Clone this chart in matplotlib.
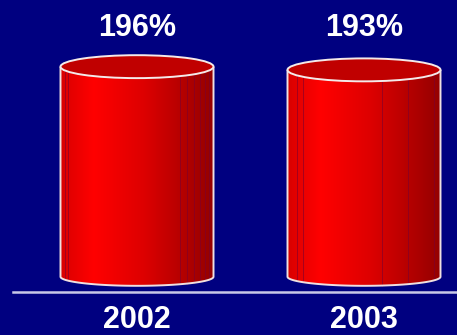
import numpy as np
import matplotlib
matplotlib.use("Agg")
from matplotlib import pyplot as plt
from matplotlib.colors import LinearSegmentedColormap
from matplotlib.patches import Ellipse, Polygon

years = ["2002", "2003"]
values = [196, 193]
labels = ["196%", "193%"]

NAVY = "#000080"
FONT = ["Liberation Sans Narrow", "Liberation Sans", "DejaVu Sans"]

# horizontal shading across the cylinder body
body_cmap = LinearSegmentedColormap.from_list(
    "body",
    [(0.0, "#d80000"), (0.22, "#ff0000"), (0.55, "#dd0000"), (1.0, "#950000")],
)
# faceting lines, as fraction of cylinder width
facets = [
    [0.03, 0.05, 0.78, 0.83, 0.87, 0.91, 0.945, 0.97],
    [0.06, 0.10, 0.62, 0.79, 0.955],
]


def plot(outputFile: str) -> None:
    fig = plt.figure(figsize=(4.57, 3.35), dpi=100, facecolor=NAVY)
    ax = fig.add_axes([0, 0, 1, 1])
    ax.set_facecolor(NAVY)
    ax.set_xlim(-0.6035, 1.4097)
    ax.set_ylim(-54.4, 258.2)
    ax.axis("off")

    hw = 0.337
    ry_top = 10.7
    ry_bot = 8.5
    grad = np.linspace(0, 1, 256)[np.newaxis, :]

    for i, v in enumerate(values):
        x0, x1 = i - hw, i + hw
        t = np.linspace(np.pi, 2 * np.pi, 100)
        pts = [(x0, v)] + [(i + hw * np.cos(a), ry_bot * np.sin(a)) for a in t] + [(x1, v)]
        body = Polygon(pts, closed=True, facecolor="none", edgecolor="none")
        ax.add_patch(body)
        im = ax.imshow(
            grad, extent=(x0, x1, -ry_bot, v), aspect="auto", cmap=body_cmap,
            interpolation="bilinear", zorder=2,
        )
        im.set_clip_path(body)

        for f in facets[i]:
            xf = x0 + f * 2 * hw
            yb = -ry_bot * np.sqrt(max(0.0, 1 - ((xf - i) / hw) ** 2))
            ax.plot([xf, xf], [yb, v], color="#7a0030", lw=0.6, alpha=0.7, zorder=3)

        outline = Polygon(pts, closed=False, facecolor="none", edgecolor="#f0e0e0",
                          lw=1.4, zorder=4)
        ax.add_patch(outline)
        ax.add_patch(Ellipse((i, v), 2 * hw, 2 * ry_top, facecolor="#c00000",
                             edgecolor="#f4eaea", lw=1.4, zorder=5))

        ax.text(i, 232.5, labels[i], color="white", fontsize=22, fontweight="bold",
                family=FONT, ha="center", va="center")
        ax.text(i, -47.9, years[i], color="white", fontsize=22, fontweight="bold",
                family=FONT, ha="center", va="baseline")

    ax.plot([-0.546, 1.4097], [-14, -14], color="#c8c8e8", lw=1.8, zorder=1)

    fig.savefig(outputFile, dpi=100, facecolor=NAVY)


def main() -> None:
    plot("out.png")


if __name__ == "__main__":
    main()
